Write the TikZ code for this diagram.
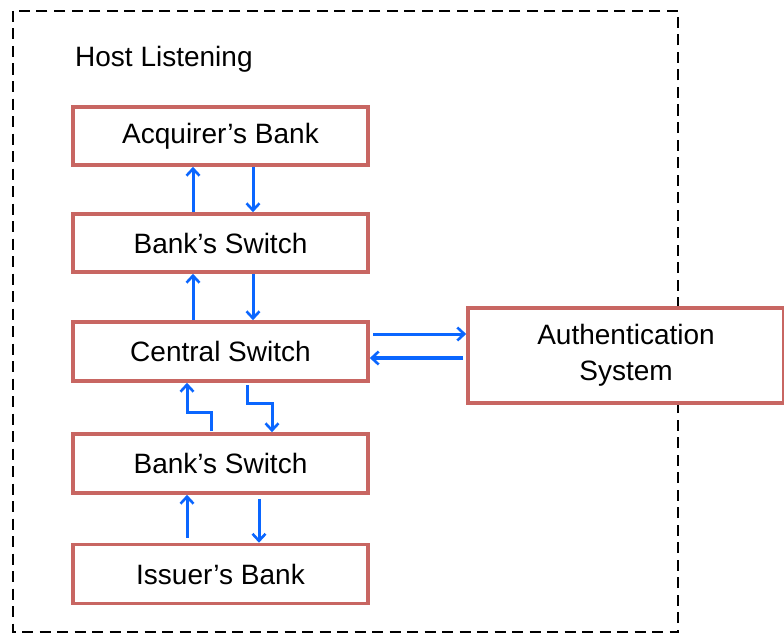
\documentclass[tikz,border=0pt]{standalone}
\usepackage{fontspec}
\setmainfont{Liberation Sans}
\usetikzlibrary{arrows.meta}
\definecolor{boxred}{RGB}{200,102,98}
\definecolor{arrblue}{RGB}{10,102,255}
\begin{document}
\begin{tikzpicture}[x=1pt,y=-1pt,
  bankbox/.style={draw=boxred,line width=3.6pt,fill=white,inner sep=0pt,font=\fontsize{28}{36}\selectfont},
  flow/.style={draw=arrblue,line width=3pt,-{Straight Barb[length=7pt,width=13pt,line width=2.6pt]}},
  boundary/.style={draw=black,line width=2.8pt,dash pattern=on 11pt off 6.5pt}]
\useasboundingbox (0,0) rectangle (784,634);
\draw[boundary] (13,11) rectangle (678,632);
\node[anchor=west,inner sep=0pt,font=\fontsize{28}{36}\selectfont] (title) at (75,59) {Host Listening};
\node[bankbox,minimum width=295pt,minimum height=58pt] (acq) at (220.5,136) {Acquirer’s Bank};
\node[bankbox,minimum width=295pt,minimum height=58pt] (bs1) at (220.5,243) {Bank’s Switch};
\node[bankbox,minimum width=295pt,minimum height=59pt] (cs) at (220.5,351.5) {Central Switch};
\node[bankbox,minimum width=295pt,minimum height=59pt] (bs2) at (220.5,463.5) {Bank’s Switch};
\node[bankbox,minimum width=295pt,minimum height=59pt] (iss) at (220.5,574) {Issuer’s Bank};
\node[bankbox,minimum width=316pt,minimum height=95pt,align=center] (auth) at (626,355.5) {Authentication\\System};
% acquirer <-> bank switch
\draw[flow] (bs1.north -| 193,0) -- (acq.south -| 193,0);
\draw[flow] (acq.south -| 253,0) -- (bs1.north -| 253,0);
% bank switch <-> central
\draw[flow] (cs.north -| 193,0) -- (bs1.south -| 193,0);
\draw[flow] (bs1.south -| 253,0) -- (cs.north -| 253,0);
% central <-> bank switch 2
\coordinate (u0) at (211,431);
\draw[flow] (u0) -- (211,412) -- (187,412) -- (cs.south -| 187,0);
\coordinate (d0) at (247,385);
\draw[flow] (d0) -- (247,403) -- (272,403) -- (bs2.north -| 272,0);
% bank switch 2 <-> issuer
\draw[flow] (iss.north -| 187,0) ++(0,-5) -- (bs2.south -| 187,0);
\draw[flow] (bs2.south -| 259,0) ++(0,4) -- (iss.north -| 259,0);
% central <-> authentication
\draw[flow] (373,334) -- (auth.west |- 0,334);
\draw[flow,line width=3.6pt] (463,358) -- (cs.east |- 0,358);
\end{tikzpicture}
\end{document}
